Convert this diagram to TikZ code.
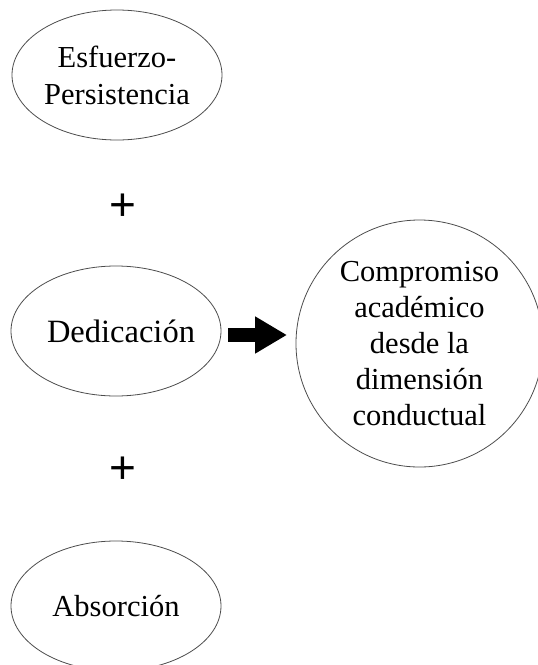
\documentclass[tikz,border=0pt]{standalone}
\usepackage{fontspec}
\setmainfont{Liberation Serif}
\newfontfamily\plusfont{Liberation Sans}
\usetikzlibrary{shapes.geometric,arrows.meta}
\begin{document}
\begin{tikzpicture}[x=1pt,y=-1pt,
  oval/.style={draw=black!70, line width=0.8pt, ellipse, minimum width=210pt, minimum height=130pt, inner sep=0pt, align=center, font=\fontsize{30.5}{37}\selectfont},
  ring/.style={draw=black!70, line width=0.8pt, circle, minimum size=247pt, inner sep=0pt, align=center, font=\fontsize{30.5}{36}\selectfont},
  plussign/.style={font=\plusfont\fontsize{46}{46}\selectfont, anchor=base, inner sep=0pt},
  blockarrow/.style={line width=14pt, -{Triangle[length=32pt,width=35pt]}}
]
\useasboundingbox (0,0) rectangle (538,665);
\node[oval] (esf) at (117,75) {Esfuerzo-\\Persistencia};
\node[oval, inner xsep=-12pt, font=\fontsize{32.5}{38}\selectfont] (ded) at (116,331) {\hspace*{10pt}Dedicaci\'on};
\node[oval] (abs) at (116,606) {Absorci\'on};
\node[ring] (comp) at (419.5,343.5) {Compromiso\\acad\'emico\\desde la\\dimensi\'on\\conductual};
\node[plussign] (p1) at (123,220) {+};
\node[plussign] (p2) at (123,483) {+};
\coordinate (as) at (228,335);
\coordinate (ae) at (287,335);
\draw[blockarrow] (as) -- (ae);
\end{tikzpicture}
\end{document}
